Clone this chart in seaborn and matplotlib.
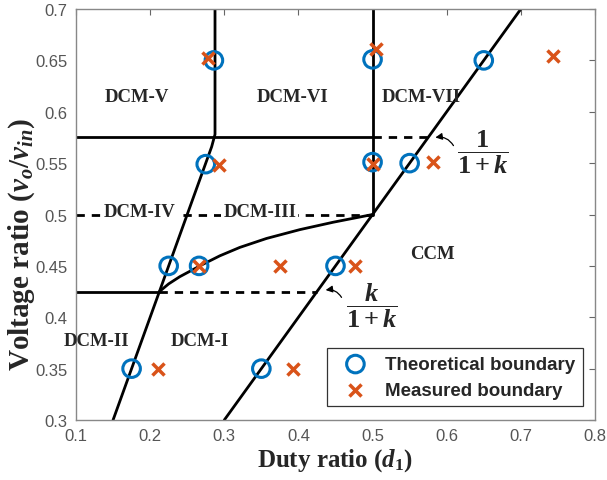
import matplotlib
matplotlib.use("Agg")
import matplotlib.pyplot as plt
import seaborn as sns

sns.set_style("white")
plt.rcParams['font.family'] = ['Liberation Sans', 'DejaVu Sans']
plt.rcParams['mathtext.fontset'] = 'custom'
plt.rcParams['mathtext.rm'] = 'Liberation Serif:bold'
plt.rcParams['mathtext.it'] = 'Liberation Serif:italic:bold'
plt.rcParams['mathtext.bf'] = 'Liberation Serif:bold'

# ---- data ----
theo_d = [0.175, 0.225, 0.275, 0.286, 0.266, 0.35, 0.45, 0.50, 0.55, 0.50, 0.65]
theo_v = [0.35, 0.45, 0.549, 0.65, 0.45, 0.35, 0.45, 0.551, 0.55, 0.651, 0.65]
meas_d = [0.278, 0.293, 0.504, 0.743, 0.50, 0.581, 0.21, 0.266, 0.375, 0.393, 0.476]
meas_v = [0.652, 0.548, 0.661, 0.654, 0.549, 0.551, 0.35, 0.45, 0.45, 0.35, 0.45]

# boundary lines
left_d = [0.15, 0.283, 0.2875, 0.2875]
left_v = [0.30, 0.566, 0.578, 0.70]
right_d = [0.30, 0.70]
right_v = [0.30, 0.70]
vert_d = [0.50, 0.50]
vert_v = [0.50, 0.70]
hi_d = [0.10, 0.50]
hi_v = [0.575, 0.575]
hi_dash_d = [0.50, 0.575]
hi_dash_v = [0.575, 0.575]
lo_d = [0.10, 0.2125]
lo_v = [0.425, 0.425]
lo_dash_d = [0.2125, 0.425]
lo_dash_v = [0.425, 0.425]
mid_dash_d = [0.10, 0.50]
mid_dash_v = [0.50, 0.50]
curve_d = [0.2125, 0.225, 0.24, 0.2716, 0.294, 0.321, 0.357, 0.402, 0.447, 0.5]
curve_v = [0.425, 0.4325, 0.4395, 0.4517, 0.4598, 0.468, 0.4767, 0.4853, 0.4925, 0.5]

region_labels = ["DCM-V", "DCM-VI", "DCM-VII", "DCM-IV", "DCM-III", "DCM-II", "DCM-I", "CCM"]
region_d = [0.182, 0.392, 0.566, 0.186, 0.348, 0.128, 0.2665, 0.581]
region_v = [0.615, 0.615, 0.615, 0.503, 0.503, 0.377, 0.377, 0.4625]

fig = plt.figure(figsize=(6.07, 4.81), dpi=100)
ax = fig.add_axes([0.1252, 0.1247, 0.855, 0.8545])

def line(dx, vy, ls='-'):
    sns.lineplot(x=dx, y=vy, ax=ax, color='black', lw=2.0, linestyle=ls,
                 sort=False, estimator=None, legend=False)

line(left_d, left_v)
line(right_d, right_v)
line(vert_d, vert_v)
line(hi_d, hi_v)
line(lo_d, lo_v)
line(curve_d, curve_v)
line(hi_dash_d, hi_dash_v, (0, (3, 2.5)))
line(lo_dash_d, lo_dash_v, (0, (3, 2.5)))
line(mid_dash_d, mid_dash_v, (0, (3, 2.5)))

sns.scatterplot(x=theo_d, y=theo_v, ax=ax, marker='o', s=160, facecolor='none',
                edgecolor='#0072BD', linewidth=2.2, label='Theoretical boundary', zorder=5)
sns.scatterplot(x=meas_d, y=meas_v, ax=ax, marker='x', s=75, color='#D95319',
                linewidth=2.5, label='Measured boundary', zorder=6)

for lab, dx, vy in zip(region_labels, region_d, region_v):
    bb = None
    if lab in ("DCM-IV", "DCM-III"):
        bb = dict(facecolor='white', edgecolor='none', pad=1.5)
    ax.text(dx, vy, lab, ha='center', va='center', fontsize=13.5, fontweight='bold',
            family='Liberation Serif', bbox=bb, zorder=4)

ax.text(0.6485, 0.5617, r'$\dfrac{1}{1+k}$', fontsize=19, ha='center', va='center')
ax.text(0.4996, 0.4118, r'$\dfrac{k}{1+k}$', fontsize=19, ha='center', va='center')
ax.annotate('', xy=(0.581, 0.5744), xytext=(0.611, 0.5647),
            arrowprops=dict(arrowstyle='-|>', color='black', lw=0.9,
                            connectionstyle='arc3,rad=0.4', mutation_scale=10))
ax.annotate('', xy=(0.433, 0.426), xytext=(0.46, 0.417),
            arrowprops=dict(arrowstyle='-|>', color='black', lw=0.9,
                            connectionstyle='arc3,rad=0.4', mutation_scale=10))

ax.set_xlim(0.1, 0.8)
ax.set_ylim(0.3, 0.7)
ax.set_xticks([0.1, 0.2, 0.3, 0.4, 0.5, 0.6, 0.7, 0.8])
ax.set_xticklabels(['0.1', '0.2', '0.3', '0.4', '0.5', '0.6', '0.7', '0.8'])
ax.set_yticks([0.3, 0.35, 0.4, 0.45, 0.5, 0.55, 0.6, 0.65, 0.7])
ax.set_yticklabels(['0.3', '0.35', '0.4', '0.45', '0.5', '0.55', '0.6', '0.65', '0.7'])
ax.tick_params(direction='in', length=4, width=0.8, colors='#666666', labelsize=12,
               top=True, right=True, labelcolor='#555555', pad=6)
for sp in ax.spines.values():
    sp.set_color('#888888')
    sp.set_linewidth(1.0)

ax.set_xlabel(r'Duty ratio ($d_1$)', fontsize=18, fontweight='bold',
              family='Liberation Serif', labelpad=2)
ax.set_ylabel(r'Voltage ratio ($v_o/v_{in}$)', fontsize=21, fontweight='bold',
              family='Liberation Serif')
ax.yaxis.set_label_coords(-0.075, 0.43)

leg = ax.legend(loc='lower right', bbox_to_anchor=(0.977, 0.034), frameon=True,
                prop=dict(family='Liberation Sans', weight='bold', size=13.5),
                handletextpad=0.5, borderpad=0.4, labelspacing=0.45, fancybox=False,
                handlelength=2.2, borderaxespad=0)
leg.get_frame().set_edgecolor('black')
leg.get_frame().set_linewidth(0.9)

fig.savefig('out.png', dpi=100)
